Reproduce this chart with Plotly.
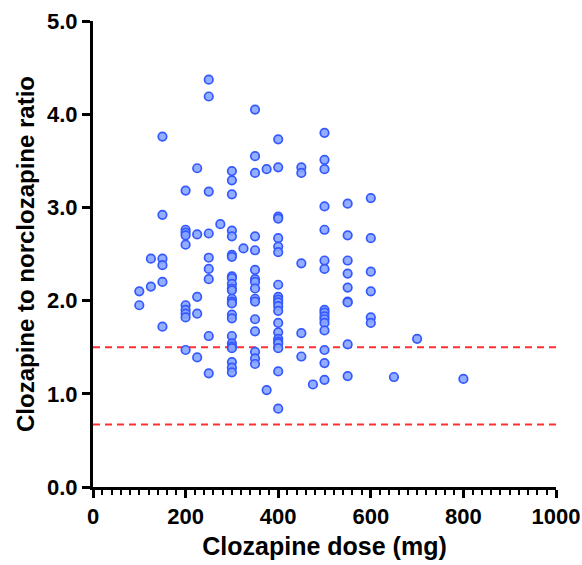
import plotly.graph_objects as go

# Data
dose_100 = [2.10, 1.95]
dose_125 = [2.45, 2.15]
dose_150 = [3.76, 2.92, 2.45, 2.38, 2.20, 1.72]
dose_200 = [3.18, 2.76, 2.73, 2.70, 2.60, 1.95, 1.90, 1.86, 1.82, 1.47]
dose_225 = [3.42, 2.71, 2.04, 1.86, 1.39]
dose_250 = [4.37, 4.19, 3.17, 2.72, 2.46, 2.34, 2.23, 1.62, 1.22]
dose_275 = [2.82]
dose_300 = [3.39, 3.29, 3.14, 2.75, 2.69, 2.49, 2.47, 2.26, 2.24, 2.18, 2.13, 2.11,
            2.02, 1.99, 1.97, 1.85, 1.81, 1.62, 1.54, 1.51, 1.49, 1.34, 1.28, 1.23]
dose_325 = [2.56]
dose_350 = [4.05, 3.55, 3.37, 2.69, 2.54, 2.33, 2.23, 2.20, 2.13, 2.02, 1.99, 1.80,
            1.67, 1.45, 1.38, 1.32]
dose_375 = [3.41, 1.04]
dose_400 = [3.73, 3.43, 2.90, 2.88, 2.67, 2.58, 2.52, 2.17, 2.04, 2.01, 1.98, 1.94,
            1.89, 1.76, 1.66, 1.59, 1.56, 1.54, 1.49, 1.24, 0.84]
dose_450 = [3.43, 3.37, 2.40, 1.65, 1.40]
dose_475 = [1.10]
dose_500 = [3.80, 3.51, 3.41, 3.01, 2.76, 2.43, 2.34, 1.90, 1.87, 1.83, 1.80, 1.76,
            1.68, 1.47, 1.33, 1.15]
dose_550 = [3.04, 2.70, 2.43, 2.29, 2.14, 1.99, 1.98, 1.53, 1.19]
dose_600 = [3.10, 2.67, 2.31, 2.10, 1.82, 1.76]
dose_650 = [1.18]
dose_700 = [1.59]
dose_800 = [1.16]

groups = {100: dose_100, 125: dose_125, 150: dose_150, 200: dose_200, 225: dose_225,
          250: dose_250, 275: dose_275, 300: dose_300, 325: dose_325, 350: dose_350,
          375: dose_375, 400: dose_400, 450: dose_450, 475: dose_475, 500: dose_500,
          550: dose_550, 600: dose_600, 650: dose_650, 700: dose_700, 800: dose_800}

thresholds = [1.5, 0.67]
x_range = [0, 1000]
x_ticks = [0, 200, 400, 600, 800, 1000]
y_ticks = [0.0, 1.0, 2.0, 3.0, 4.0, 5.0]

xs, ys = [], []
for d, vals in groups.items():
    for v in vals:
        xs.append(d)
        ys.append(v)

fig = go.Figure()
for t in thresholds:
    fig.add_trace(go.Scatter(x=x_range, y=[t, t], mode="lines",
                             line=dict(color="#ff3030", width=2, dash="7px,5px"),
                             showlegend=False, hoverinfo="skip"))
fig.add_trace(go.Scatter(x=xs, y=ys, mode="markers",
                         marker=dict(size=8.5, color="rgba(135,165,255,0.9)",
                                     line=dict(color="#3458ff", width=1.7)),
                         showlegend=False))

font = dict(family="Arial, Liberation Sans, sans-serif", color="black")
fig.update_layout(
    width=582, height=565,
    margin=dict(l=93, r=26, t=21, b=78),
    plot_bgcolor="white", paper_bgcolor="white",
    font=font,
    xaxis=dict(range=x_range, tickvals=x_ticks, ticktext=[str(v) for v in x_ticks],
               automargin=False,
               showline=True, linecolor="black", linewidth=3, showgrid=False, zeroline=False,
               ticks="outside", ticklen=8, tickwidth=3, tickcolor="black",
               minor=dict(dtick=20, ticks="outside", ticklen=5, tickwidth=2, tickcolor="black"),
               tickfont=dict(size=22, weight="bold", **font),
               title=dict(text="Clozapine dose (mg)", font=dict(size=25, weight="bold", **font),
                          standoff=10)),
    yaxis=dict(range=[0, 5], tickvals=y_ticks, ticktext=[f"{v:.1f}" for v in y_ticks],
               automargin=False,
               showline=True, linecolor="black", linewidth=3, showgrid=False, zeroline=False,
               ticks="outside", ticklen=8, tickwidth=3, tickcolor="black",
               tickfont=dict(size=22, weight="bold", **font),
               title=dict(text="Clozapine to norclozapine ratio",
                          font=dict(size=24, weight="bold", **font), standoff=6)),
)

fig.write_html("out.html")
